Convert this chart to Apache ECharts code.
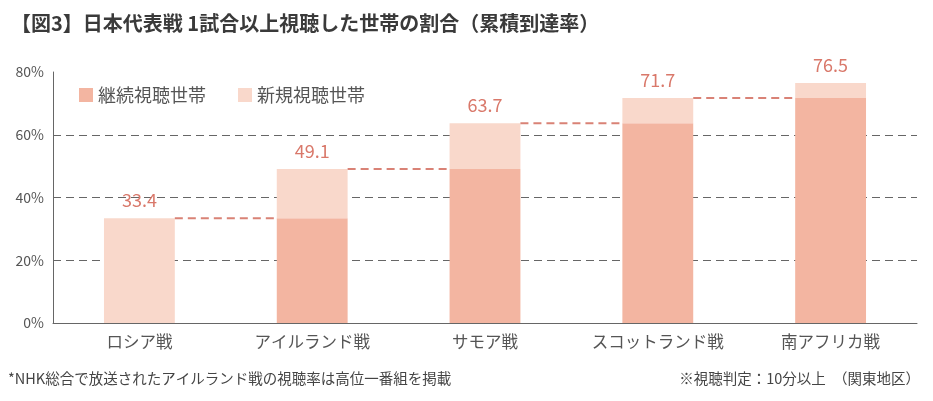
<!DOCTYPE html>
<html><head><meta charset="utf-8">
<script src="https://cdn.jsdelivr.net/npm/echarts@6/dist/echarts.min.js"></script>
<style>html,body{margin:0;padding:0;background:#fff}#c{width:933px;height:401px}</style>
</head><body><div id="c"></div>
<script>
const categories = ['ロシア戦','アイルランド戦','サモア戦','スコットランド戦','南アフリカ戦'];
const totals = [33.4, 49.1, 63.7, 71.7, 76.5];
const continuing = [0, 33.4, 49.1, 63.7, 71.7];
const newViewers = [33.4, 15.7, 14.6, 8.0, 4.8];
const yTicks = [0, 20, 40, 60, 80];

const FONT = '"Noto Sans CJK JP", "Noto Sans", sans-serif';
const BAR_W = 0.41;
const chart = echarts.init(document.getElementById('c'));
chart.setOption({
  animation: false,
  textStyle: { fontFamily: FONT },
  title: {
    text: '【図3】日本代表戦 1試合以上視聴した世帯の割合（累積到達率）',
    left: 6, top: 8,
    textStyle: { fontSize: 20, fontWeight: 'bold', color: '#3a3a3a', fontFamily: FONT }
  },
  legend: {
    left: 74, top: 81, itemWidth: 14, itemHeight: 14, itemGap: 32,
    icon: 'rect',
    textStyle: { fontSize: 18, color: '#555', fontFamily: FONT },
    data: ['継続視聴世帯', '新規視聴世帯']
  },
  graphic: [
    { type: 'text', left: 8, top: 371, style: { text: '*NHK総合で放送されたアイルランド戦の視聴率は高位一番組を掲載', fontSize: 14.5, fill: '#444', fontFamily: FONT } },
    { type: 'text', right: 13, top: 371, style: { text: '※視聴判定：10分以上　（関東地区）', fontSize: 14.5, fill: '#444', fontFamily: FONT } }
  ],
  grid: { left: 53, right: 16, top: 72, bottom: 78 },
  xAxis: {
    type: 'category', data: categories,
    axisLine: { lineStyle: { color: '#666' } },
    axisTick: { show: false },
    axisLabel: { fontSize: 16.5, color: '#555', margin: 10 }
  },
  yAxis: {
    type: 'value', min: yTicks[0], max: yTicks[yTicks.length - 1], interval: 20,
    axisLine: { show: true, lineStyle: { color: '#666' } },
    axisTick: { show: false },
    axisLabel: { formatter: '{value}%', fontSize: 14, color: '#555', margin: 9 },
    splitLine: { show: true, showMaxLine: false, lineStyle: { color: '#666', type: [8, 5], width: 1 } }
  },
  series: [
    {
      name: '継続視聴世帯', type: 'bar', stack: 's', barWidth: (BAR_W * 100) + '%',
      itemStyle: { color: '#f3b5a1' }, data: continuing
    },
    {
      name: '新規視聴世帯', type: 'bar', stack: 's', barWidth: (BAR_W * 100) + '%',
      itemStyle: { color: '#f9d8cb' }, data: newViewers,
      label: {
        show: true, position: 'top', distance: 9, fontSize: 18, color: '#d9786a',
        formatter: p => totals[p.dataIndex].toFixed(1)
      }
    },
    {
      type: 'custom', silent: true, z: 3,
      data: totals.slice(0, totals.length - 1).map((v, i) => [i, v]),
      renderItem: (params, api) => {
        const i = api.value(0), v = api.value(1);
        const a = api.coord([i, v]);
        const b = api.coord([i + 1, v]);
        const hw = api.size([1, 0])[0] * BAR_W / 2;
        return {
          type: 'line',
          shape: { x1: a[0] + hw, y1: a[1], x2: b[0] - hw, y2: b[1] },
          style: { stroke: '#d98276', lineWidth: 2, lineDash: [8, 5] }
        };
      }
    }
  ]
});
</script></body></html>
